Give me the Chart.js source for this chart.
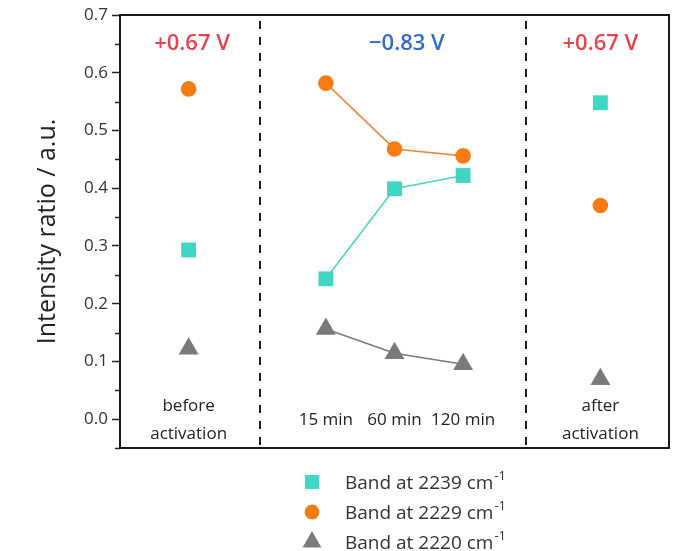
<!DOCTYPE html>
<html>
<head>
<meta charset="utf-8">
<script src="https://cdn.jsdelivr.net/npm/chart.js@4.4.1/dist/chart.umd.min.js"></script>
<style>
html,body{margin:0;padding:0;background:#fff;}
#wrap{width:674px;height:551px;position:relative;}
</style>
</head>
<body>
<div id="wrap"><canvas id="c" width="674" height="551"></canvas></div>
<script>
// ---- data ----
const categories = ['before activation', '15 min', '60 min', '120 min', 'after activation'];
const categoryX = [1, 3, 4, 5, 7];
const band2239 = [0.293, 0.243, 0.399, 0.422, 0.548];
const band2229 = [0.572, 0.582, 0.468, 0.456, 0.370];
const band2220 = [0.122, 0.156, 0.114, 0.095, 0.069];
const seriesNames = ['Band at 2239 cm', 'Band at 2229 cm', 'Band at 2220 cm'];
const potentials = ['+0.67 V', '\u22120.83 V', '+0.67 V'];
const yTicks = [0.0, 0.1, 0.2, 0.3, 0.4, 0.5, 0.6, 0.7];

const FONT = '"Open Sans", "Noto Sans", sans-serif';
const styles = [
  {color: '#3FD6C6', line: '#4CD3C4', shape: 'rect', r: 10.5},
  {color: '#F97C12', line: '#EE8A3E', shape: 'circle', r: 7.8},
  {color: '#7A7A7A', line: '#7A7A7A', shape: 'triangle', r: 11.5}
];
const allSeries = [band2239, band2229, band2220];

function pts(vals){ return vals.map((v,i)=>({x: categoryX[i], y: v})); }

const datasets = allSeries.map((vals, k) => ({
  label: seriesNames[k] + '\u207B\u00B9',
  data: pts(vals),
  showLine: true,
  borderColor: styles[k].line,
  borderWidth: 1.6,
  backgroundColor: styles[k].color,
  pointBackgroundColor: styles[k].color,
  pointBorderColor: styles[k].color,
  pointBorderWidth: 0,
  pointStyle: styles[k].shape,
  pointRadius: styles[k].r,
  pointHoverRadius: styles[k].r,
  segment: {
    borderColor: ctx => (ctx.p0DataIndex === 0 || ctx.p1DataIndex === categoryX.length - 1) ? 'rgba(0,0,0,0)' : styles[k].line
  },
  order: k
}));

function drawMarker(ctx, shape, x, y, r, color){
  ctx.save();
  ctx.fillStyle = color;
  ctx.beginPath();
  if (shape === 'rect') {
    const s = Math.SQRT1_2 * r;
    ctx.rect(x - s, y - s, 2*s, 2*s);
  } else if (shape === 'circle') {
    ctx.arc(x, y, r, 0, Math.PI*2);
  } else {
    for (let i=0;i<3;i++){
      const a = i * 2*Math.PI/3;
      const px = x + Math.sin(a)*r, py = y - Math.cos(a)*r;
      if (i===0) ctx.moveTo(px,py); else ctx.lineTo(px,py);
    }
    ctx.closePath();
  }
  ctx.fill();
  ctx.restore();
}

const decorPlugin = {
  id: 'decor',
  beforeDatasetsDraw(chart){
    const {ctx, chartArea: a, scales:{x, y}} = chart;
    ctx.save();
    // dashed dividers
    ctx.strokeStyle = '#222';
    ctx.lineWidth = 2;
    ctx.setLineDash([8, 8]);
    [2.04, 5.91].forEach(v => {
      const px = Math.round(x.getPixelForValue(v));
      ctx.beginPath();
      ctx.moveTo(px, a.top + 6);
      ctx.lineTo(px, a.bottom);
      ctx.stroke();
    });
    ctx.setLineDash([]);
    // potentials
    ctx.font = '600 22px ' + FONT;
    ctx.textAlign = 'center';
    ctx.textBaseline = 'alphabetic';
    const potX = [1.05, 4.18, 7.0];
    const potCol = ['#E5434E', '#2F6DC6', '#E5434E'];
    potentials.forEach((t,i) => {
      ctx.fillStyle = potCol[i];
      ctx.fillText(t, x.getPixelForValue(potX[i]), a.top + 35);
    });
    // category labels
    ctx.fillStyle = '#222';
    ctx.font = '17px ' + FONT;
    const y0 = y.getPixelForValue(0.0);
    categories.forEach((c,i) => {
      const px = x.getPixelForValue(categoryX[i]);
      const words = c.split(' ');
      if (words.length === 2 && words[1] === 'activation') {
        ctx.fillText(words[0], px, y0 - 8);
        ctx.fillText(words[1], px, y0 + 20);
      } else {
        ctx.fillText(c, px, y0 + 6);
      }
    });
    ctx.restore();
  },
  afterDraw(chart){
    const {ctx, chartArea: a, scales:{y}} = chart;
    ctx.save();
    // minor ticks
    ctx.strokeStyle = '#222';
    ctx.lineWidth = 1.5;
    for (let k = -1; k <= 13; k += 2) {
      const py = Math.round(y.getPixelForValue(k*0.05)) + 0.5;
      ctx.beginPath();
      ctx.moveTo(a.left - 5, py);
      ctx.lineTo(a.left, py);
      ctx.stroke();
    }
    // frame
    ctx.lineWidth = 2;
    ctx.strokeStyle = '#1a1a1a';
    ctx.strokeRect(a.left, a.top, a.right - a.left, a.bottom - a.top);
    // legend
    const lx = 312, tx = 345, rows = [482, 512, 542];
    datasets.forEach((d,k) => {
      drawMarker(ctx, styles[k].shape, lx, rows[k], styles[k].r * 0.95, styles[k].color);
      ctx.fillStyle = '#333';
      ctx.font = '19px ' + FONT;
      ctx.textAlign = 'left';
      ctx.textBaseline = 'alphabetic';
      ctx.fillText(seriesNames[k], tx, rows[k] + 7);
      const w = ctx.measureText(seriesNames[k]).width;
      ctx.font = '13px ' + FONT;
      ctx.fillText('-1', tx + w + 1, rows[k] - 2);
    });
    ctx.restore();
  }
};

new Chart(document.getElementById('c'), {
  type: 'scatter',
  data: { datasets },
  options: {
    responsive: false,
    animation: false,
    layout: { autoPadding: false, padding: { left: 0, right: 5, top: 15, bottom: 103 } },
    plugins: { legend: { display: false }, tooltip: { enabled: false } },
    scales: {
      x: { type: 'linear', min: 0, max: 8, display: false },
      y: {
        type: 'linear', min: -0.05, max: 0.7,
        afterFit(s){ s.width = 120; },
        border: { display: false },
        grid: {
          drawOnChartArea: false, drawTicks: true, tickLength: 8, tickWidth: 1.5,
          tickColor: '#222'
        },
        afterBuildTicks(s){
          s.ticks = yTicks.map(v => ({value: v}));
        },
        ticks: {
          padding: 4,
          color: '#333',
          font: { family: FONT, size: 17 },
          callback: v => Number(v).toFixed(1)
        },
        title: {
          display: true,
          text: 'Intensity ratio / a.u.',
          color: '#222',
          font: { family: FONT, size: 25 },
          padding: { top: 33, bottom: 0 }
        }
      }
    }
  },
  plugins: [decorPlugin]
});
</script>
</body>
</html>
